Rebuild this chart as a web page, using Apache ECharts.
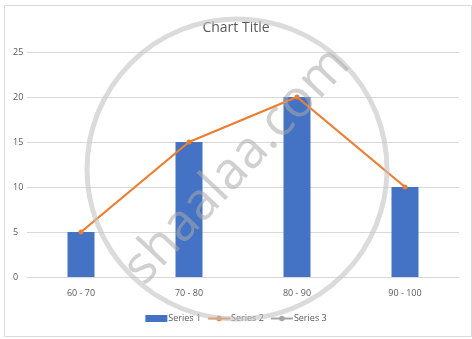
<!DOCTYPE html>
<html><head><meta charset="utf-8">
<script src="https://cdn.jsdelivr.net/npm/echarts@6/dist/echarts.min.js"></script>
<style>html,body{margin:0;padding:0;background:#fff}#c{width:472px;height:339px}</style>
</head><body><div id="c"></div>
<script>
const categories = ['60 - 70', '70 - 80', '80 - 90', '90 - 100'];
const series1 = [5, 15, 20, 10];
const series2 = [5, 15, 20, 10];
const series3 = [];
const yTicks = [0, 5, 10, 15, 20, 25];

const chart = echarts.init(document.getElementById('c'));
chart.setOption({
  animation: false,
  backgroundColor: '#fff',
  title: { text: 'Chart Title', left: 'center', top: 16,
    textStyle: { fontFamily: 'Open Sans', fontSize: 14, fontWeight: 'normal', color: '#595959' } },
  legend: {
    bottom: 11, itemGap: 6, itemWidth: 22, itemHeight: 7,
    textStyle: { fontFamily: 'Open Sans', fontSize: 9, color: '#595959', padding: [0,0,0,-4] },
    data: [
      { name: 'Series 1', icon: 'rect' },
      { name: 'Series 2' },
      { name: 'Series 3' }
    ]
  },
  grid: { left: 27, right: 13, top: 52, bottom: 62 },
  xAxis: {
    type: 'category', data: categories,
    axisLine: { lineStyle: { color: '#d9d9d9' } },
    axisTick: { show: false },
    axisLabel: { fontFamily: 'Open Sans', fontSize: 9, color: '#595959', margin: 12 }
  },
  yAxis: {
    type: 'value', min: yTicks[0], max: yTicks[yTicks.length-1], interval: 5,
    axisLine: { show: false }, axisTick: { show: false },
    axisLabel: { fontFamily: 'Open Sans', fontSize: 9, color: '#595959', margin: 14, align: 'left' },
    splitLine: { lineStyle: { color: '#d9d9d9' } }
  },
  graphic: [
    { type: 'rect', left: 2, top: 3, shape: { width: 467, height: 331 }, z: -10,
      style: { fill: 'none', stroke: '#d9d9d9', lineWidth: 1 } },
    { type: 'circle', shape: { cx: 237, cy: 169, r: 150 }, z: 100, silent: true,
      style: { fill: 'none', stroke: 'rgba(195,195,195,0.6)', lineWidth: 5 } },
    { type: 'text', x: 237, y: 166, rotation: Math.PI * 0.26, z: 100, silent: true,
      style: { text: 'shaalaa.com', fontFamily: 'Open Sans', fontSize: 52, fill: 'rgba(170,170,170,0.55)',
        align: 'center', verticalAlign: 'middle' } }
  ],
  series: [
    { name: 'Series 1', type: 'bar', data: series1, barWidth: 27, itemStyle: { color: '#4472c4' } },
    { name: 'Series 2', type: 'line', data: series2, symbol: 'circle', symbolSize: 5,
      lineStyle: { color: '#ed7d31', width: 2.25 }, itemStyle: { color: '#ed7d31' } },
    { name: 'Series 3', type: 'line', data: series3, symbol: 'none',
      lineStyle: { color: '#a5a5a5', width: 2.25 }, itemStyle: { color: '#a5a5a5' } }
  ]
});
</script></body></html>
